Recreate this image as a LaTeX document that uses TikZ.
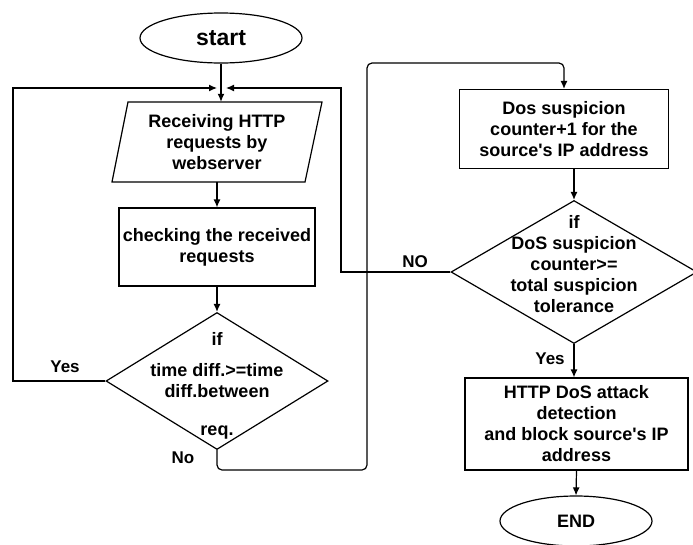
\documentclass[tikz,border=0pt]{standalone}
\usepackage{fontspec}
\setmainfont{Liberation Sans}[Ligatures=TeXOff]
\usetikzlibrary{arrows.meta,shapes.geometric}
\begin{document}
\begin{tikzpicture}[x=1pt,y=-1pt,
  every node/.style={font=\fontsize{18}{21}\selectfont\bfseries, align=center, inner sep=0pt},
  box/.style={draw, rectangle, line width=1.2pt},
  dia/.style={draw, diamond, line width=1.2pt},
  term/.style={draw, ellipse, line width=1.2pt},
  lbl/.style={font=\fontsize{17}{20}\selectfont\bfseries},
  line/.style={line width=1.2pt},
  arr/.style={line width=1.2pt, -{Latex[length=8pt,width=7pt]}}
]
\useasboundingbox[fill=white] (0,0) rectangle (693,544);

% left column
\node[term, minimum width=162pt, minimum height=50pt, font=\fontsize{23}{26}\selectfont\bfseries] (start) at (221,38) {start};
\draw[line] (128,102) -- (322,102) -- (305,182) -- (112,182) -- cycle;
\node[minimum width=190pt, minimum height=80pt] (recv) at (217,142) {Receiving HTTP\\requests by\\webserver};
\node[box, minimum width=196pt, minimum height=78pt] (check) at (217,247) {checking the received\\requests};
\node[dia, minimum width=222pt, minimum height=137pt] (d1) at (217,381) {};
\node (d1t) at (217,386) {if\\[10pt]time diff.>=time\\diff.between\\[17pt]req.};

% right column
\node[box, minimum width=209pt, minimum height=79pt] (dos) at (564,129) {Dos suspicion\\counter+1 for the\\source's IP address};
\node[dia, minimum width=246pt, minimum height=143pt] (d2) at (574,272) {};
\node (d2t) at (574,264) {if\\DoS suspicion\\counter>=\\total suspicion\\tolerance};
\node[box, minimum width=223pt, minimum height=92pt] (http) at (576.5,424) {HTTP DoS attack\\detection\\and block source's IP\\address};
\node[term, minimum width=152pt, minimum height=50pt] (end) at (576,521) {END};

% junction coordinates
\coordinate (lj) at (217,88);
\coordinate (rj) at (226,88);
\coordinate (lc) at (13,88);
\coordinate (rc) at (341,88);
\coordinate (n1) at (367,470);
\coordinate (n2) at (367,63);

% connectors
\draw[arr] (start.south) -- (start.south |- recv.north);
\draw[arr] (recv.south) -- (check.north);
\draw[arr] (check.south) -- (d1.north);
\draw[arr] (d1.west) -| (lc) -- (lj);
\draw[arr] (d2.west) -| (rc) -- (rj);
\draw[arr, rounded corners=5pt] (d1.south) |- (n1) -- (n2) -| (dos.north);
\draw[arr] (d2.north |- dos.south) -- (d2.north);
\draw[arr] (d2.south) -- (d2.south |- http.north);
\draw[arr] (http.south) -- (end.north);

% labels
\node[lbl] (yes1) at (65,367) {Yes};
\node[lbl] (no1) at (183,458) {No};
\node[lbl] (no2) at (415,262) {NO};
\node[lbl] (yes2) at (550,359) {Yes};
\end{tikzpicture}
\end{document}
